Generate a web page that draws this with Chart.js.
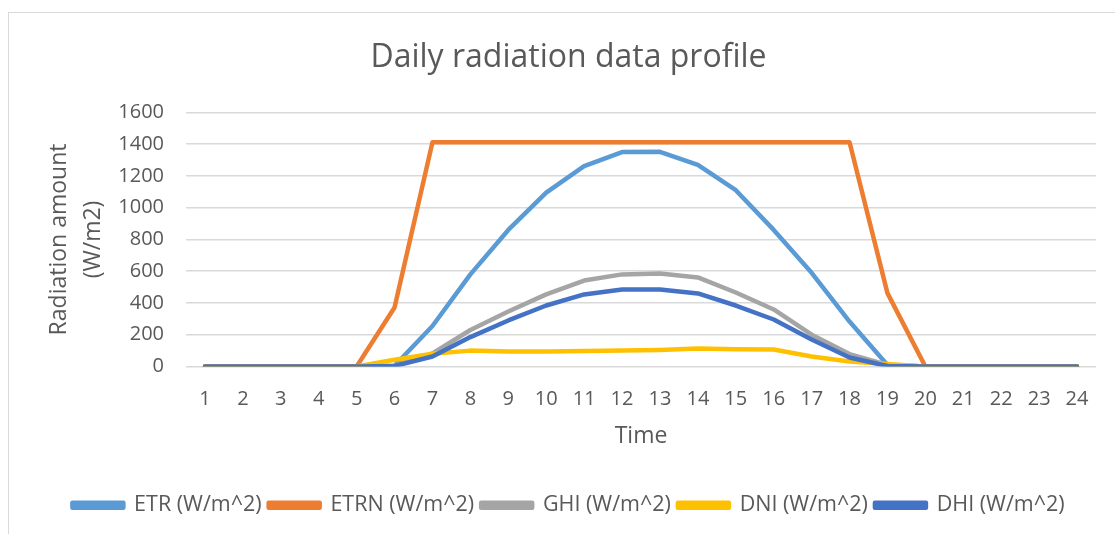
<!DOCTYPE html>
<html>
<head>
<meta charset="utf-8">
<script src="https://cdn.jsdelivr.net/npm/chart.js@4.4.1/dist/chart.umd.min.js"></script>
<style>
  html, body { margin: 0; padding: 0; background: #ffffff; overflow: hidden; }
  #wrap { position: relative; width: 1115px; height: 534px; }
  #frame { position: absolute; left: 8px; top: 12px; width: 1200px; height: 600px; border: 1px solid #d9d9d9; box-sizing: border-box; pointer-events: none; }
  canvas { position: absolute; left: 0; top: 0; }
</style>
</head>
<body>
<div id="wrap">
  <canvas id="c" width="1115" height="534"></canvas>
  <div id="frame"></div>
</div>
<script>
const categories = ['1','2','3','4','5','6','7','8','9','10','11','12','13','14','15','16','17','18','19','20','21','22','23','24'];
const etr  = [0,0,0,0,0,5,255,580,860,1095,1262,1350,1352,1270,1110,860,590,283,10,0,0,0,0,0];
const etrn = [0,0,0,0,0,372,1412,1412,1412,1412,1412,1412,1412,1412,1412,1412,1412,1412,462,0,0,0,0,0];
const ghi  = [0,0,0,0,0,5,82,230,346,454,541,580,586,561,466,359,200,78,10,0,0,0,0,0];
const dni  = [0,0,0,0,0,42,80,100,94,95,98,100,104,113,108,107,63,31,15,0,0,0,0,0];
const dhi  = [0,0,0,0,0,3,63,185,290,384,454,485,485,460,384,296,170,57,3,0,0,0,0,0];
const yTicks = [0,200,400,600,800,1000,1200,1400,1600];

const FONT = "'Open Sans', 'Liberation Sans', sans-serif";
const TXT = '#595959';

function ds(label, data, color, order) {
  return { label, data, borderColor: color, backgroundColor: color, borderWidth: 4.5,
           pointRadius: 0, pointHoverRadius: 0, tension: 0, fill: false, order,
           borderCapStyle: 'round', borderJoinStyle: 'round' };
}

new Chart(document.getElementById('c'), {
  type: 'line',
  data: {
    labels: categories,
    datasets: [
      ds('ETR (W/m^2)', etr, '#5B9BD5', 5),
      ds('ETRN (W/m^2)', etrn, '#ED7D31', 4),
      ds('GHI (W/m^2)', ghi, '#A5A5A5', 3),
      ds('DNI (W/m^2)', dni, '#FFC000', 2),
      ds('DHI (W/m^2)', dhi, '#4472C4', 1)
    ]
  },
  options: {
    responsive: false,
    devicePixelRatio: 1,
    animation: false,
    layout: { padding: { left: 41, right: 19, top: 0, bottom: 8 } },
    plugins: {
      title: {
        display: true, text: 'Daily radiation data profile', color: TXT,
        font: { family: FONT, size: 32, weight: 'normal', lineHeight: 1.2 },
        padding: { top: 39, bottom: 35 }
      },
      legend: {
        position: 'bottom',
        labels: {
          sort: (a, b) => a.datasetIndex - b.datasetIndex,
          color: TXT, boxWidth: 51, boxHeight: 5, padding: 7,
          font: { family: FONT, size: 21.5, lineHeight: 1.2 }
        }
      },
      tooltip: { enabled: false }
    },
    scales: {
      x: {
        offset: true,
        grid: { display: false, drawTicks: false },
        border: { display: false },
        ticks: { color: TXT, padding: 21, maxRotation: 0, autoSkip: false, font: { family: FONT, size: 20 } },
        title: { display: true, text: 'Time', color: TXT, font: { family: FONT, size: 23, lineHeight: 1.2 }, padding: { top: 37, bottom: 37 } },
        afterFit: (s) => { s.height = 121; }
      },
      y: {
        min: 0, max: 1600,
        afterBuildTicks: (s) => { s.ticks = yTicks.map(v => ({ value: v })); },
        grid: { color: '#d9d9d9', lineWidth: 1.5, drawTicks: false },
        border: { display: false },
        ticks: { color: TXT, padding: 22, font: { family: FONT, size: 20 }, callback: (v) => String(v) },
        title: { display: true, text: ['Radiation amount', '(W/m2)'], color: TXT,
                 font: { family: FONT, size: 23, lineHeight: 1.478 }, padding: { top: 1, bottom: 1 } },
        afterFit: (s) => { s.width = 145; }
      }
    }
  }
});
</script>
</body>
</html>
